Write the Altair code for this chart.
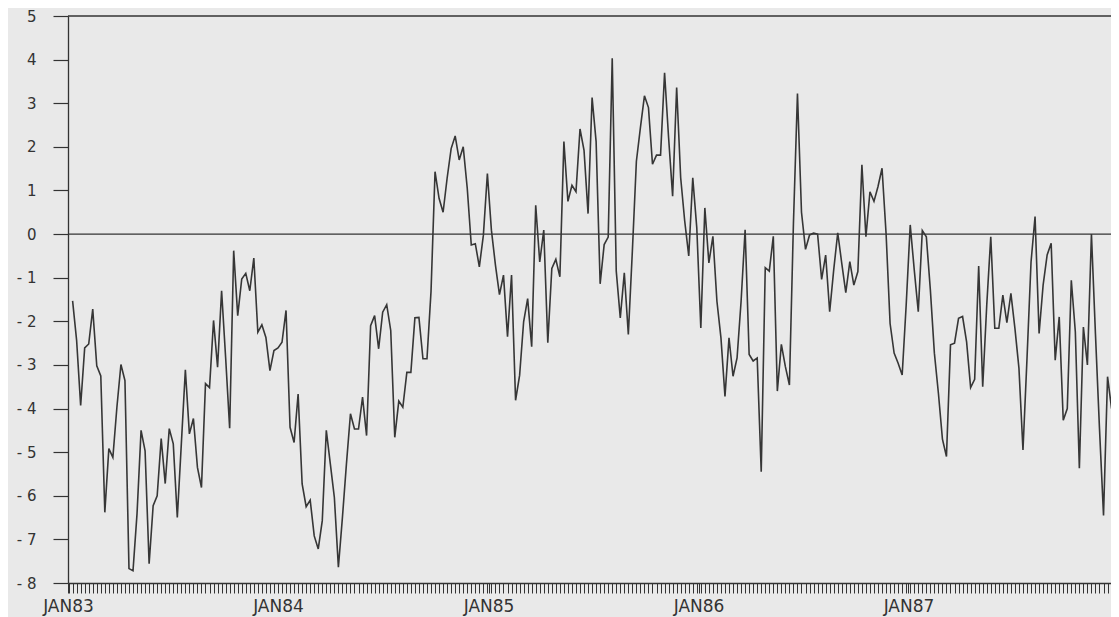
import altair as alt
import pandas as pd

# Weekly series, Jan 1983 - Dec 1987
vals_1 = [-1.53, -2.44, -3.93, -2.61, -2.52, -1.72, -3.02, -3.25, -6.38, -4.92,
          -5.12, -3.97, -2.99, -3.36, -7.67, -7.72, -6.41, -4.50, -4.97, -7.56,
          -6.23, -6.00, -4.69, -5.72, -4.46, -4.81, -6.50, -4.81, -3.11, -4.58,
          -4.23, -5.35, -5.81, -3.43, -3.52, -1.98, -3.05, -1.30, -2.83, -4.45,
          -0.38, -1.87, -1.03, -0.90]
vals_2 = [-1.30, -0.55, -2.25, -2.08, -2.37, -3.13, -2.67, -2.61, -2.48, -1.75,
          -4.43, -4.78, -3.67, -5.73, -6.25, -6.10, -6.92, -7.22, -6.57, -4.50,
          -5.27, -6.04, -7.64, -6.50, -5.27, -4.12, -4.47, -4.47, -3.74, -4.62,
          -2.10, -1.87, -2.63, -1.79, -1.62, -2.21, -4.66, -3.83, -3.97, -3.17,
          -3.17, -1.92, -1.91, -2.86, -2.86]
vals_3 = [-1.32, 1.43, 0.82, 0.50, 1.28, 1.96, 2.25, 1.70, 2.00, 1.05,
          -0.25, -0.22, -0.75, -0.03, 1.39, 0.09, -0.71, -1.39, -0.94, -2.35,
          -0.94, -3.81, -3.24, -2.01, -1.48, -2.58, 0.66, -0.64, 0.09, -2.49,
          -0.79, -0.58, -0.98, 2.12, 0.75, 1.12, 0.97, 2.41, 1.92, 0.47,
          3.13, 2.12, -1.14, -0.24, -0.07, 4.03]
vals_4 = [-0.85, -1.92, -0.89, -2.30, -0.39, 1.67, 2.44, 3.17, 2.90, 1.60,
          1.81, 1.81, 3.70, 2.21, 0.87, 3.36, 1.29, 0.30, -0.50, 1.29,
          0.14, -2.15, 0.60, -0.66, -0.05, -1.54, -2.38, -3.72, -2.38, -3.26,
          -2.84, -1.54, 0.10, -2.76, -2.91, -2.84, -5.45, -0.77, -0.85, -0.05,
          -3.60, -2.53, -3.04, -3.46]
vals_5 = [0.25, 3.22, 0.50, -0.35, -0.02, 0.02, 0.00, -1.04, -0.48, -1.78,
          -0.82, 0.03, -0.67, -1.34, -0.63, -1.17, -0.86, 1.59, -0.06, 0.97,
          0.75, 1.09, 1.51, 0.02, -2.05, -2.73, -2.96, -3.23, -1.62, 0.21,
          -0.82, -1.78, 0.08, -0.06, -1.28, -2.73, -3.65, -4.70, -5.10, -2.54,
          -2.50, -1.93, -1.89, -2.47]
vals_6 = [-3.52, -3.33, -0.73, -3.50, -1.63, -0.06, -2.16, -2.16, -1.40, -2.03,
          -1.36, -2.16, -3.08, -4.95, -2.85, -0.64, 0.40, -2.28, -1.17, -0.48,
          -0.21, -2.89, -1.90, -4.27, -4.00, -1.06, -2.24, -5.37, -2.13, -3.00,
          0.00, -2.30, -4.46, -6.45, -3.27, -4.00, -1.90]

values = vals_1 + vals_2 + vals_3 + vals_4 + vals_5 + vals_6
first_week = "1983-01-09"
label_years = [1983, 1984, 1985, 1986, 1987]
y_ticks = list(range(-8, 6))

dates = pd.date_range(first_week, periods=len(values), freq="7D")
df = pd.DataFrame({"date": dates.strftime("%Y-%m-%d"), "value": values})

epoch = pd.Timestamp("1970-01-01")
def ms(t):
    return int((t - epoch).total_seconds() * 1000)

tick_dates = list(pd.date_range("1983-01-02", "1987-12-20", freq="7D"))
tick_dates += [pd.Timestamp(f"{y}-01-01") for y in label_years]
tick_values = sorted(ms(t) for t in tick_dates)

INK = "#333333"

x_scale = alt.Scale(type="utc",
                    domain=[alt.DateTime(year=1983, month=1, date=1, utc=True),
                            alt.DateTime(year=1987, month=12, date=19, utc=True)])
y_scale = alt.Scale(domain=[-8, 5], nice=False, zero=False)

x_axis = alt.Axis(
    title=None, grid=False, values=tick_values,
    labelExpr="utcFormat(datum.value, '%m-%d') == '01-01' ? 'JAN' + utcFormat(datum.value, '%y') : ''",
    labelOverlap=False, labelBound=False, labelFlush=False,
    tickSize=10, tickColor=INK, tickWidth=1, domainColor=INK, domainWidth=1.3,
    labelPadding=5, labelFont="DejaVu Sans", labelFontSize=17, labelColor=INK,
)
y_axis = alt.Axis(
    title=None, grid=False, values=y_ticks,
    labelExpr="datum.value < 0 ? '- ' + abs(datum.value) : '' + datum.value",
    tickSize=15, tickColor=INK, tickWidth=1.2, domainColor=INK, domainWidth=1.3,
    labelPadding=17, labelFont="DejaVu Sans", labelFontSize=15, labelColor=INK,
)

line = alt.Chart(df).mark_line(color="#363636", strokeWidth=1.6, clip=True).encode(
    x=alt.X("date:T", scale=x_scale, axis=x_axis),
    y=alt.Y("value:Q", scale=y_scale, axis=y_axis),
)

zero_rule = alt.Chart().mark_rule(color=INK, strokeWidth=1.2).encode(y=alt.datum(0))
top_rule = alt.Chart().mark_rule(color=INK, strokeWidth=1.3).encode(y=alt.datum(5))

chart = alt.layer(zero_rule, top_rule, line).properties(
    width=1043, height=567,
    autosize=alt.AutoSizeParams(type="none"),
    padding={"left": 60, "top": 8, "right": 0, "bottom": 36},
    background="#e9e9e9",
).configure_view(stroke=None)

chart.save("out.html", embed_options={"renderer": "svg", "actions": False})
